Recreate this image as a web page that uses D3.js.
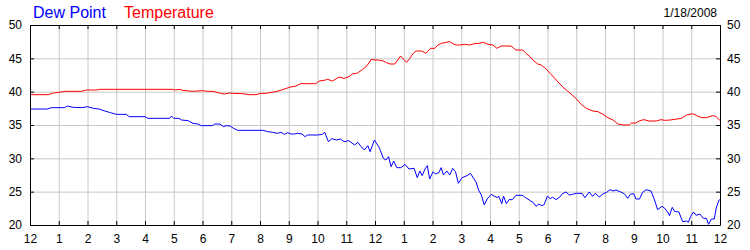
<!DOCTYPE html>
<html>
<head>
<meta charset="utf-8">
<script src="https://cdn.jsdelivr.net/npm/d3@7"></script>
<style>
  body { margin: 0; background: #fff; }
  svg { display: block; }
  .axis text { font-family: "Liberation Sans", Arial, sans-serif; font-size: 12px; fill: #000; }
  .axis line, .axis path { stroke: #000; }
  .grid line { stroke: #c8c8c8; }
  .grid path { display: none; }
</style>
</head>
<body>
<svg id="chart" width="750" height="250"></svg>
<script>
// hours since midnight
let dewHours = [0, 0.6, 0.75, 1.2, 1.3, 1.5, 1.8, 2.0, 2.2, 2.4, 2.6, 2.8, 3.0, 3.35, 3.45, 4.0, 4.1, 4.86, 4.92, 5.0,
  5.18, 5.27, 5.5, 5.67, 5.84, 5.96, 6.34, 6.42, 6.6, 6.73, 6.82, 6.96, 7.08, 7.23, 8.1, 8.27, 8.44, 8.61, 8.73, 8.85,
  8.96, 9.08, 9.19, 9.31, 9.46, 9.57, 9.65, 10.0, 10.17, 10.25, 10.38, 10.5, 10.66, 10.8, 10.92, 11.09, 11.29, 11.4, 11.52, 11.63,
  11.75, 11.83, 11.98, 12.15, 12.29, 12.38, 12.47, 12.56, 12.65, 12.76, 12.9, 13.05, 13.18, 13.36, 13.47, 13.56, 13.64, 13.74, 13.82, 13.9,
  14.02, 14.1, 14.22, 14.3, 14.38, 14.5, 14.6, 14.7, 14.8, 14.9, 15.03, 15.2, 15.32, 15.43, 15.52, 15.6, 15.7, 15.8, 15.9, 16.04,
  16.14, 16.26, 16.3, 16.41, 16.47, 16.57, 16.66, 16.78, 16.9, 17.13, 17.24, 17.42, 17.5, 17.6, 17.7, 17.8, 17.88, 18.0, 18.1, 18.17,
  18.3, 18.43, 18.52, 18.64, 18.76, 18.87, 19.0, 19.2, 19.3, 19.45, 19.57, 19.66, 19.8, 19.94, 20.06, 20.17, 20.29, 20.38, 20.52, 20.67,
  20.79, 20.88, 21.0, 21.08, 21.2, 21.3, 21.43, 21.6, 21.72, 21.83, 21.98, 22.07, 22.2, 22.24, 22.34, 22.42, 22.57, 22.7, 22.83, 22.9,
  22.98, 23.08, 23.17, 23.3, 23.42, 23.53, 23.6, 23.7, 23.8, 23.87, 23.96, 24.0];
let dewValues = [37.4, 37.4, 37.6, 37.6, 37.85, 37.65, 37.6, 37.75, 37.5, 37.4, 37.1, 36.85, 36.6, 36.6, 36.25, 36.25, 36.0, 36.0, 36.35, 36.0,
  36.0, 35.75, 35.65, 35.25, 35.15, 34.9, 34.9, 35.15, 35.15, 34.75, 34.9, 34.85, 34.5, 34.2, 34.2, 34.0, 33.9, 33.75, 33.9, 33.6,
  33.85, 33.65, 33.65, 33.75, 33.65, 33.25, 33.5, 33.5, 33.6, 33.9, 32.5, 32.95, 32.75, 32.9, 32.5, 32.65, 32.0, 32.4, 31.75, 31.25,
  31.9, 31.0, 32.75, 31.6, 30.0, 29.75, 30.25, 28.75, 29.6, 28.6, 28.6, 29.1, 28.4, 28.5, 27.1, 28.1, 27.4, 28.4, 28.9, 26.9,
  28.0, 27.65, 27.85, 28.6, 27.5, 28.1, 27.5, 28.5, 28.0, 26.25, 27.1, 27.4, 27.75, 27.0, 26.4, 25.25, 24.5, 23.0, 23.9, 24.6,
  24.35, 24.1, 24.35, 23.2, 24.35, 23.2, 23.8, 23.8, 24.45, 24.45, 24.1, 23.6, 23.4, 22.8, 23.15, 22.9, 23.05, 24.35, 23.9, 24.2,
  23.8, 24.2, 24.7, 24.95, 24.5, 24.6, 24.75, 24.75, 24.1, 24.95, 24.3, 24.75, 24.2, 24.7, 24.9, 25.3, 25.1, 25.25, 25.0, 24.7,
  24.0, 24.6, 24.7, 23.9, 23.9, 24.85, 25.3, 25.1, 23.8, 22.3, 22.8, 22.55, 21.8, 21.4, 22.65, 22.05, 21.95, 20.5, 20.6, 20.4,
  21.3, 21.95, 21.45, 21.65, 21.0, 21.0, 20.1, 20.9, 20.9, 22.55, 23.7, 23.8];

let tempHours = [0, 0.64, 0.81, 1.02, 1.21, 1.79, 1.97, 2.31, 2.43, 4.97, 5.03, 5.2, 5.32, 5.66, 6.01, 6.18, 6.36, 6.59, 6.76, 6.94,
  7.05, 7.4, 7.63, 7.86, 8.03, 8.2, 8.55, 8.79, 9.02, 9.25, 9.42, 9.94, 10.06, 10.23, 10.35, 10.52, 10.75, 10.92, 11.1, 11.21,
  11.39, 11.56, 11.68, 11.79, 11.87, 12.0, 12.12, 12.29, 12.4, 12.52, 12.69, 12.89, 13.0, 13.1, 13.21, 13.35, 13.44, 13.62, 13.77, 13.93,
  14.08, 14.19, 14.31, 14.42, 14.6, 14.75, 14.83, 14.94, 15.15, 15.29, 15.46, 15.61, 15.78, 15.93, 16.1, 16.24, 16.39, 16.73, 16.9, 17.14,
  17.25, 17.39, 17.49, 17.66, 17.78, 17.95, 18.24, 18.53, 18.83, 19.0, 19.17, 19.35, 19.58, 19.76, 19.93, 20.1, 20.28, 20.45, 20.63, 20.84,
  20.92, 21.07, 21.21, 21.35, 21.53, 21.79, 21.94, 22.08, 22.26, 22.43, 22.66, 22.84, 23.05, 23.19, 23.36, 23.53, 23.74, 23.86, 24.0];
let tempValues = [39.55, 39.55, 39.8, 39.9, 40.05, 40.05, 40.25, 40.25, 40.35, 40.35, 40.25, 40.35, 40.2, 40.05, 40.15, 40.05, 40.05, 39.8, 39.65, 39.8,
  39.75, 39.7, 39.55, 39.55, 39.75, 39.75, 40.0, 40.3, 40.65, 40.85, 41.2, 41.2, 41.6, 41.7, 41.85, 41.6, 42.2, 42.0, 42.25, 42.65,
  42.8, 43.3, 43.7, 44.3, 44.85, 44.75, 44.75, 44.6, 44.35, 44.15, 44.15, 45.35, 44.85, 44.4, 45.0, 45.85, 46.1, 46.1, 45.75, 46.5,
  46.5, 47.0, 47.25, 47.35, 47.5, 47.1, 47.0, 47.0, 47.1, 47.0, 47.2, 47.25, 47.4, 47.1, 47.0, 46.5, 46.85, 46.85, 46.25, 46.25,
  45.75, 45.25, 44.75, 44.15, 44.0, 43.4, 42.05, 40.7, 39.6, 38.95, 38.1, 37.5, 37.1, 37.0, 36.6, 36.1, 35.75, 35.15, 35.0, 35.0,
  35.3, 35.3, 35.65, 35.8, 35.6, 35.6, 35.8, 35.7, 35.75, 35.85, 36.0, 36.5, 36.7, 36.4, 36.1, 36.1, 36.4, 36.3, 35.65];

let hourTicks = d3.range(0, 25);
let tempTicks = [20, 25, 30, 35, 40, 45, 50];
let dateLabel = "1/18/2008";

let svg = d3.select("#chart");
let plotLeft = 30, plotRight = 720, plotTop = 25, plotBottom = 225;

let xScale = d3.scaleLinear().domain([0, 24]).range([plotLeft, plotRight]);
let yScale = d3.scaleLinear().domain([20, 50]).range([plotBottom, plotTop]);

// grid
svg.append("g").attr("class", "grid")
  .attr("transform", "translate(0," + plotBottom + ")")
  .call(d3.axisBottom(xScale).tickValues(hourTicks.slice(1, -1)).tickSize(-(plotBottom - plotTop)).tickFormat(""));
svg.append("g").attr("class", "grid")
  .attr("transform", "translate(" + plotLeft + ",0)")
  .call(d3.axisLeft(yScale).tickValues(tempTicks.slice(1, -1)).tickSize(-(plotRight - plotLeft)).tickFormat(""));

// lines
let line = d3.line().x(d => xScale(d[0])).y(d => yScale(d[1]));
let dew = dewHours.map((h, i) => [h, dewValues[i]]);
let temp = tempHours.map((h, i) => [h, tempValues[i]]);

svg.append("path").attr("d", line(temp))
  .attr("fill", "none").attr("stroke", "#ff0000").attr("stroke-width", 1);
svg.append("path").attr("d", line(dew))
  .attr("fill", "none").attr("stroke", "#0000ff").attr("stroke-width", 1);

// axes / frame
let hourFmt = h => (h % 12) || 12;
svg.append("g").attr("class", "axis")
  .attr("transform", "translate(0," + plotBottom + ")")
  .call(d3.axisBottom(xScale).tickValues(hourTicks).tickSizeInner(-4).tickSizeOuter(0).tickPadding(9).tickFormat(hourFmt));
svg.append("g").attr("class", "axis")
  .attr("transform", "translate(0," + plotTop + ")")
  .call(d3.axisTop(xScale).tickValues(hourTicks).tickSizeInner(-4).tickSizeOuter(0).tickFormat(""));
svg.append("g").attr("class", "axis")
  .attr("transform", "translate(" + plotLeft + ",0)")
  .call(d3.axisLeft(yScale).tickValues(tempTicks).tickSizeInner(-4).tickSizeOuter(0).tickPadding(8));
svg.append("g").attr("class", "axis")
  .attr("transform", "translate(" + plotRight + ",0)")
  .call(d3.axisRight(yScale).tickValues(tempTicks).tickSizeInner(-4).tickSizeOuter(0).tickPadding(7));

svg.selectAll(".axis").attr("font-family", null).attr("font-size", null);

// legend + date
svg.append("text").attr("x", 33).attr("y", 18)
  .attr("font-family", "Liberation Sans, Arial, sans-serif").attr("font-size", 16)
  .attr("fill", "#0000ff").text("Dew Point");
svg.append("text").attr("x", 124).attr("y", 18)
  .attr("font-family", "Liberation Sans, Arial, sans-serif").attr("font-size", 16)
  .attr("fill", "#ff0000").text("Temperature");
svg.append("text").attr("x", 717).attr("y", 17).attr("text-anchor", "end")
  .attr("font-family", "Liberation Sans, Arial, sans-serif").attr("font-size", 12)
  .attr("fill", "#000").text(dateLabel);
</script>
</body>
</html>
